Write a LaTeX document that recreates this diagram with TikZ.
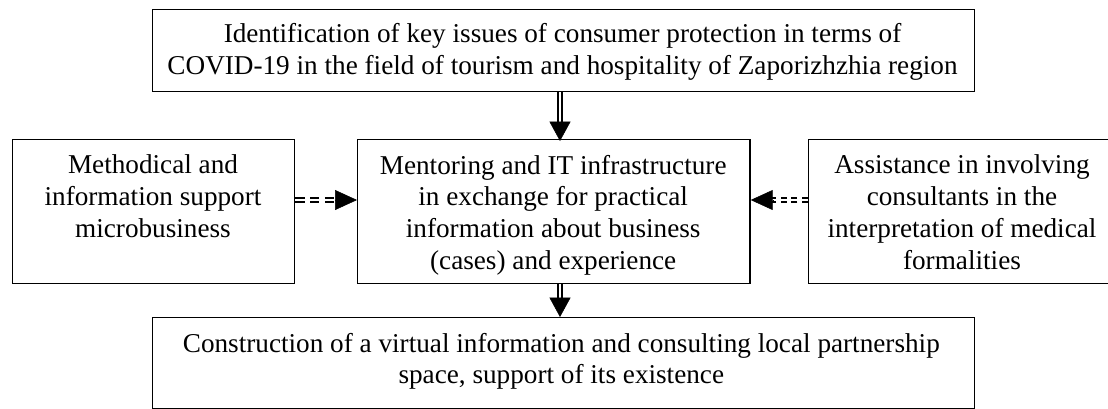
\documentclass[tikz,border=0pt]{standalone}
\usepackage{fontspec}
\setmainfont{Liberation Serif}
\usetikzlibrary{arrows.meta,calc}
\tikzset{
  box/.style={draw, line width=1.1pt, inner sep=0pt, anchor=north west},
  txt/.style={inner sep=0pt, anchor=north, align=center, font=\fontsize{20.4pt}{23.8pt}\selectfont},
  vshaft/.style={draw=black, line width=0.9pt, double=white, double distance=2pt},
  hshaft/.style={draw=black, line width=1.6pt, double=white, double distance=1.8pt},
  vhead/.style={line width=0.4pt, -{Triangle[length=14.5pt,width=15.75pt]}},
  hhead/.style={line width=0.4pt, -{Triangle[length=16.5pt,width=15pt]}},
}
\begin{document}
\begin{tikzpicture}
\useasboundingbox (0,0) rectangle (831pt,-306pt);
% boxes
\node[box, minimum width=616.3pt, minimum height=61.3pt] (top) at (114pt,-6.75pt) {};
\node[box, minimum width=211.5pt, minimum height=108pt] (left) at (9pt,-104.25pt) {};
\node[box, minimum width=294.2pt, minimum height=108pt] (mid) at (267.75pt,-104.25pt) {};
\node[box, minimum width=231pt, minimum height=108pt] (right) at (606pt,-104.25pt) {};
\node[box, minimum width=616.3pt, minimum height=68.25pt] (bot) at (114pt,-237.75pt) {};
% texts
\node[txt] (toptext) at (421.9pt,-17.3pt) {Identification of key issues of consumer protection in terms of\\COVID-19 in the field of tourism and hospitality of Zaporizhzhia region};
\node[txt] (lefttext) at (114.75pt,-116pt) {Methodical and\\information support\\microbusiness};
\node[txt] (midtext) at (414.9pt,-116pt) {Mentoring and IT infrastructure\\in exchange for practical\\information about business\\(cases) and experience};
\node[txt] (righttext) at (721.5pt,-116pt) {Assistance in involving\\consultants in the\\interpretation of medical\\formalities};
\node[txt] (bottext) at (421pt,-249.5pt) {Construction of a virtual information and consulting local partnership\\space, support of its existence};
% helper coordinates
\coordinate (ax) at (420pt,0);
\coordinate (ay) at (0,-150pt);
% top -> mid
\draw[vshaft] (top.south -| ax) -- ($(mid.north -| ax)+(0,12pt)$);
\draw[vhead] ($(mid.north -| ax)+(0,13pt)$) -- ($(mid.north -| ax)+(0,-1.5pt)$);
% mid -> bot
\draw[vshaft] (mid.south -| ax) -- ($(bot.north -| ax)+(0,14.5pt)$);
\draw[vhead] ($(bot.north -| ax)+(0,14.5pt)$) -- (bot.north -| ax);
% left -> mid
\draw[hshaft, dash pattern=on 7pt off 4pt] (left.east |- ay) -- ($(mid.west |- ay)+(-16pt,0)$);
\draw[hhead] ($(mid.west |- ay)+(-16.5pt,0)$) -- (mid.west |- ay);
% right -> mid
\draw[hshaft, dash pattern=on 4.5pt off 3.5pt] (right.west |- ay) -- ($(mid.east |- ay)+(16pt,0)$);
\draw[hhead] ($(mid.east |- ay)+(16.5pt,0)$) -- (mid.east |- ay);
\end{tikzpicture}
\end{document}
